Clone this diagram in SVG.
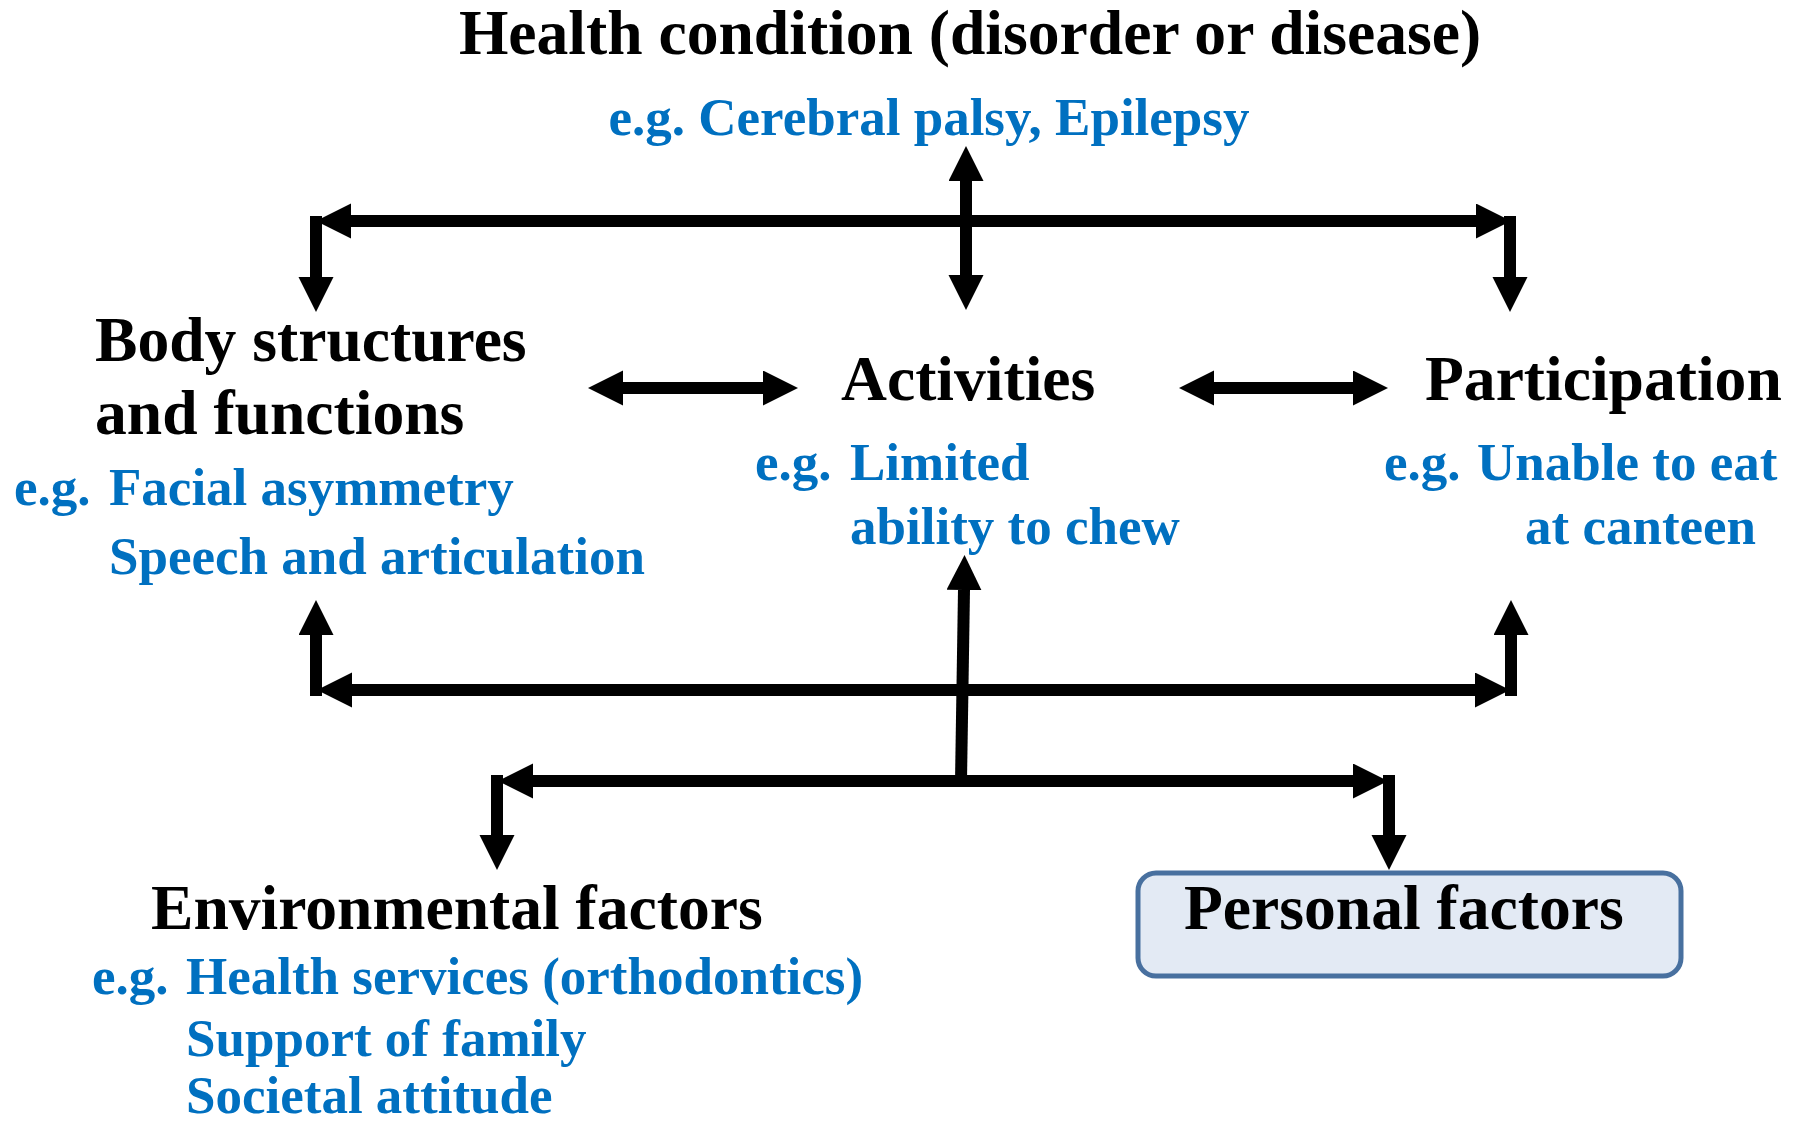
<svg xmlns="http://www.w3.org/2000/svg" width="1799" height="1125" viewBox="0 0 1799 1125">
<defs>
<style>
.h{font-family:"Liberation Serif","Times New Roman",serif;font-weight:bold;font-size:63.6px;fill:#000}
.b{font-family:"Liberation Serif","Times New Roman",serif;font-weight:bold;font-size:53px;fill:#0070C0}
.c{stroke:#000;stroke-width:12;fill:none}
</style>
<marker id="ah" markerUnits="userSpaceOnUse" markerWidth="36" markerHeight="36" refX="0" refY="17.5" orient="auto-start-reverse" viewBox="0 0 36 36">
<path d="M0,0 L35,17.5 L0,35 z" fill="#000"/>
</marker>
</defs>
<rect width="1799" height="1125" fill="#fff"/>
<g id="connectors">
<line class="c" x1="351" y1="221" x2="1476" y2="221" marker-start="url(#ah)" marker-end="url(#ah)"/>
<line class="c" x1="316" y1="216" x2="316" y2="277" marker-end="url(#ah)"/>
<line class="c" x1="1510" y1="216" x2="1510" y2="277" marker-end="url(#ah)"/>
<line class="c" x1="966" y1="181" x2="966" y2="275" marker-start="url(#ah)" marker-end="url(#ah)"/>
<line class="c" x1="623" y1="388" x2="763" y2="388" marker-start="url(#ah)" marker-end="url(#ah)"/>
<line class="c" x1="1214" y1="388" x2="1353" y2="388" marker-start="url(#ah)" marker-end="url(#ah)"/>
<line class="c" x1="352" y1="690" x2="1475" y2="690" marker-start="url(#ah)" marker-end="url(#ah)"/>
<line class="c" x1="316" y1="696" x2="316" y2="635" marker-end="url(#ah)"/>
<line class="c" x1="1511" y1="696" x2="1511" y2="635" marker-end="url(#ah)"/>
<line class="c" x1="961" y1="781" x2="964" y2="590" marker-end="url(#ah)"/>
<line class="c" x1="533" y1="781" x2="1353" y2="781" marker-start="url(#ah)" marker-end="url(#ah)"/>
<line class="c" x1="497" y1="775" x2="497" y2="835" marker-end="url(#ah)"/>
<line class="c" x1="1389" y1="775" x2="1389" y2="835" marker-end="url(#ah)"/>
</g>
<g id="health">
<text class="h" x="970" y="54" text-anchor="middle" font-size="64.5">Health condition (disorder or disease)</text>
<text class="b" x="929" y="135" text-anchor="middle">e.g. Cerebral palsy, Epilepsy</text>
</g>
<g id="body">
<text class="h" x="95" y="361">Body structures</text>
<text class="h" x="95" y="434">and functions</text>
<text class="b" x="14" y="505">e.g.</text>
<text class="b" x="109" y="505">Facial asymmetry</text>
<text class="b" x="109" y="574">Speech and articulation</text>
</g>
<g id="activities">
<text class="h" x="841" y="400">Activities</text>
<text class="b" x="755" y="480">e.g.</text>
<text class="b" x="850" y="480">Limited</text>
<text class="b" x="850" y="544">ability to chew</text>
</g>
<g id="participation">
<text class="h" x="1425" y="400">Participation</text>
<text class="b" x="1384" y="480">e.g.</text>
<text class="b" x="1477" y="480">Unable to eat</text>
<text class="b" x="1525" y="544">at canteen</text>
</g>
<g id="environmental">
<text class="h" x="151" y="929">Environmental factors</text>
<text class="b" x="92" y="994">e.g.</text>
<text class="b" x="186" y="994">Health services (orthodontics)</text>
<text class="b" x="186" y="1056">Support of family</text>
<text class="b" x="186" y="1113">Societal attitude</text>
</g>
<g id="personal">
<rect x="1138" y="873" width="543" height="103" rx="18" fill="#E3EAF4" stroke="#48709F" stroke-width="5"/>
<text class="h" x="1184" y="929">Personal factors</text>
</g>
</svg>
